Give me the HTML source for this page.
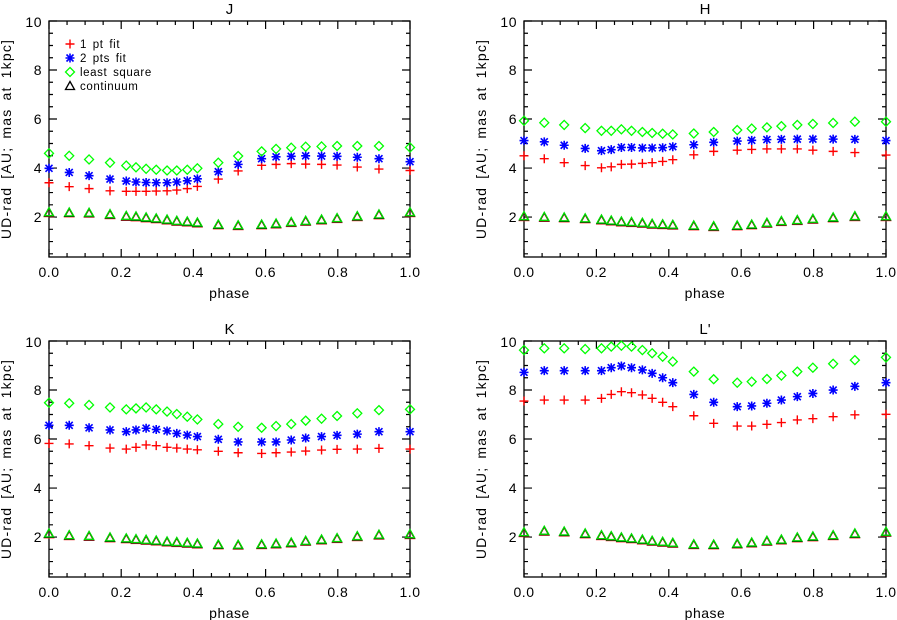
<!DOCTYPE html>
<html><head><meta charset="utf-8"><style>
html,body{margin:0;padding:0;background:#fff;}
svg{display:block;font-family:"Liberation Sans",sans-serif;}
</style></head><body>
<svg id="chart" width="897" height="620" viewBox="0 0 897 620"></svg>
<script>
const phases=[0,0.056,0.111,0.169,0.214,0.241,0.269,0.297,0.327,0.354,0.383,0.411,0.469,0.524,0.589,0.629,0.671,0.711,0.755,0.798,0.854,0.914,1.0];
const xTicks=[0,0.2,0.4,0.6,0.8,1.0];
const xTickLabels=["0.0","0.2","0.4","0.6","0.8","1.0"];
const yTicks=[2,4,6,8,10];
const yTickLabels=["2","4","6","8","10"];
const J_lsq=[4.60,4.50,4.35,4.22,4.10,4.03,3.97,3.93,3.90,3.90,3.93,3.99,4.22,4.49,4.68,4.78,4.83,4.87,4.88,4.90,4.90,4.90,4.84];
const J_two=[3.99,3.82,3.69,3.55,3.47,3.43,3.41,3.40,3.40,3.43,3.48,3.56,3.85,4.15,4.38,4.46,4.48,4.50,4.49,4.48,4.44,4.38,4.26];
const J_one=[3.40,3.24,3.16,3.07,3.05,3.05,3.05,3.06,3.07,3.10,3.16,3.25,3.55,3.88,4.11,4.15,4.18,4.16,4.15,4.12,4.04,3.96,3.90];
const J_cont=[2.20,2.19,2.18,2.12,2.05,2.03,1.99,1.95,1.90,1.85,1.82,1.78,1.70,1.67,1.70,1.74,1.80,1.85,1.90,1.96,2.04,2.11,2.20];
const H_lsq=[5.93,5.85,5.76,5.63,5.52,5.52,5.58,5.52,5.47,5.43,5.40,5.37,5.41,5.47,5.55,5.61,5.66,5.71,5.76,5.80,5.84,5.89,5.89];
const H_two=[5.12,5.07,4.93,4.80,4.71,4.75,4.84,4.84,4.82,4.82,4.83,4.87,4.95,5.05,5.10,5.13,5.16,5.17,5.18,5.18,5.18,5.17,5.12];
const H_one=[4.50,4.38,4.22,4.10,4.01,4.05,4.15,4.16,4.19,4.22,4.27,4.34,4.54,4.68,4.73,4.76,4.78,4.78,4.78,4.73,4.68,4.63,4.53];
const H_cont=[2.04,2.01,1.99,1.95,1.90,1.86,1.82,1.80,1.77,1.73,1.71,1.69,1.66,1.63,1.66,1.70,1.77,1.84,1.88,1.93,1.99,2.04,2.04];
const K_lsq=[7.48,7.46,7.39,7.29,7.21,7.25,7.29,7.21,7.12,7.02,6.91,6.80,6.61,6.50,6.46,6.53,6.61,6.75,6.83,6.94,7.05,7.18,7.21];
const K_two=[6.56,6.56,6.46,6.37,6.30,6.37,6.44,6.39,6.33,6.23,6.16,6.10,5.99,5.88,5.88,5.88,5.96,6.04,6.10,6.15,6.20,6.30,6.30];
const K_one=[5.82,5.80,5.73,5.63,5.59,5.66,5.76,5.73,5.66,5.63,5.59,5.56,5.50,5.44,5.41,5.44,5.47,5.51,5.55,5.58,5.59,5.62,5.59];
const K_cont=[2.15,2.08,2.05,1.99,1.95,1.92,1.89,1.86,1.82,1.80,1.77,1.74,1.70,1.69,1.71,1.74,1.78,1.85,1.90,1.96,2.04,2.10,2.12];
const L_lsq=[9.63,9.70,9.70,9.67,9.70,9.77,9.81,9.77,9.63,9.50,9.36,9.16,8.75,8.44,8.30,8.34,8.45,8.59,8.75,8.91,9.07,9.22,9.33];
const L_two=[8.72,8.79,8.79,8.79,8.79,8.91,8.98,8.91,8.82,8.68,8.50,8.30,7.82,7.50,7.32,7.35,7.46,7.59,7.73,7.86,8.00,8.15,8.30];
const L_one=[7.55,7.59,7.59,7.59,7.66,7.82,7.93,7.89,7.80,7.66,7.50,7.32,6.95,6.64,6.53,6.53,6.60,6.67,6.78,6.83,6.91,6.99,7.01];
const L_cont=[2.20,2.26,2.23,2.15,2.08,2.04,1.99,1.95,1.90,1.85,1.81,1.77,1.71,1.70,1.74,1.78,1.85,1.90,1.99,2.03,2.08,2.15,2.22];

const NS="http://www.w3.org/2000/svg";
const svg=document.getElementById('chart');
function mk(tag,attrs,parent){const e=document.createElementNS(NS,tag);for(const k in attrs)e.setAttribute(k,attrs[k]);(parent||svg).appendChild(e);return e;}
const YMIN=0.37,YMAX=10;
const panels=[
 {title:"J",x0:49,x1:410,y0:21,y1:257,one:J_one,two:J_two,lsq:J_lsq,cont:J_cont,legend:true,key:"j"},
 {title:"H",x0:524,x1:886,y0:21,y1:257,one:H_one,two:H_two,lsq:H_lsq,cont:H_cont,key:"h"},
 {title:"K",x0:49,x1:410,y0:341,y1:577,one:K_one,two:K_two,lsq:K_lsq,cont:K_cont,key:"k"},
 {title:"L'",x0:524,x1:886,y0:341,y1:577,one:L_one,two:L_two,lsq:L_lsq,cont:L_cont,key:"l"}
];
function plus(g,x,y,c){mk('path',{d:`M${x-4.5} ${y}H${x+4.5}M${x} ${y-4.5}V${y+4.5}`,stroke:c,'stroke-width':1.4,fill:'none'},g);}
function star(g,x,y,c){mk('path',{d:`M${x-4.5} ${y}H${x+4.5}M${x} ${y-4.5}V${y+4.5}M${x-3.5} ${y-3.5}L${x+3.5} ${y+3.5}M${x-3.5} ${y+3.5}L${x+3.5} ${y-3.5}`,stroke:c,'stroke-width':1.6,fill:'none'},g);}
function diamond(g,x,y,c){mk('path',{d:`M${x} ${y-4.5}L${x+4.5} ${y}L${x} ${y+4.5}L${x-4.5} ${y}Z`,stroke:c,'stroke-width':1.3,fill:'none'},g);}
function tri(g,x,y,c){mk('path',{d:`M${x} ${y-4.5}L${x+4.5} ${y+3.5}L${x-4.5} ${y+3.5}Z`,stroke:c,'stroke-width':1.3,fill:'none'},g);}

panels.forEach(p=>{
 const g=mk('g',{});
 
 
 const sx=v=>p.x0+(p.x1-p.x0)*v;
 const sy=v=>p.y1-(p.y1-p.y0)*(v-YMIN)/(YMAX-YMIN);
 const fr=mk('rect',{x:p.x0,y:p.y0,width:p.x1-p.x0,height:p.y1-p.y0,fill:'none',stroke:'#000','stroke-width':1.3},g);
 
 
 const t=mk('text',{x:(p.x0+p.x1)/2,y:p.y0-7,'text-anchor':'middle','font-size':15},g);t.textContent=p.title;
 
 
 let d='';
 for(let i=0;i<=20;i++){const v=i*0.05;const x=sx(v);const L=(i%4===0)?8:4;d+=`M${x} ${p.y1}V${p.y1-L}M${x} ${p.y0}V${p.y0+L}`;}
 for(let v=0.5;v<=10.001;v+=0.5){const y=sy(v);const L=(Math.abs(v%2)<1e-6)?8:4;d+=`M${p.x0} ${y}H${p.x0+L}M${p.x1} ${y}H${p.x1-L}`;}
 const tk=mk('path',{d:d,stroke:'#000','stroke-width':1.2,fill:'none'},g);
 
 
 xTicks.forEach((v,i)=>{const e=mk('text',{x:sx(v),y:p.y1+20,'text-anchor':'middle','font-size':14,'letter-spacing':0.5},g);e.textContent=xTickLabels[i];
  
  });
 yTicks.forEach((v,i)=>{let y=sy(v)+5;if(v===10)y=sy(v)+6;const e=mk('text',{x:p.x0-7,y:y,'text-anchor':'end','font-size':14,'letter-spacing':0.5},g);e.textContent=yTickLabels[i];
  
  });
 const xl=mk('text',{x:(p.x0+p.x1)/2,y:p.y1+41,'text-anchor':'middle','font-size':14,'letter-spacing':0.5},g);xl.textContent='phase';
 
 
 const cy=(p.y0+p.y1)/2;const xx=p.x0-38;
 const yl=mk('text',{x:xx,y:cy,'text-anchor':'middle','font-size':14,'letter-spacing':1.2,'word-spacing':3,transform:`rotate(-90 ${xx} ${cy})`},g);yl.textContent='UD-rad [AU; mas at 1kpc]';
 
 
 const gc=mk('g',{},g);
 phases.forEach((ph,i)=>{const x=sx(ph),y=sy(p.cont[i]);tri(gc,x,y+1,'#ff4040');tri(gc,x,y+0.5,'#000');tri(gc,x,y,'#00dd00');});
 const g1=mk('g',{},g);
 phases.forEach((ph,i)=>plus(g1,sx(ph),sy(p.one[i]),'#ff0000'));
 const g2=mk('g',{},g);
 phases.forEach((ph,i)=>star(g2,sx(ph),sy(p.two[i]),'#0000ff'));
 const g3=mk('g',{},g);
 phases.forEach((ph,i)=>diamond(g3,sx(ph),sy(p.lsq[i]),'#00ff00'));
 if(p.legend){
  const lg=mk('g',{},g);
  const items=[['1 pt fit',plus,'#ff0000'],['2 pts fit',star,'#0000ff'],['least square',diamond,'#00ff00'],['continuum',tri,'#000']];
  items.forEach((it,i)=>{const y=44+i*14;it[1](lg,70,y,it[2]);const e=mk('text',{x:80,y:y+4,'font-size':11.5,'letter-spacing':0.6,'word-spacing':2},lg);e.textContent=it[0];
   
   });
 }
});
</script>
</body></html>
